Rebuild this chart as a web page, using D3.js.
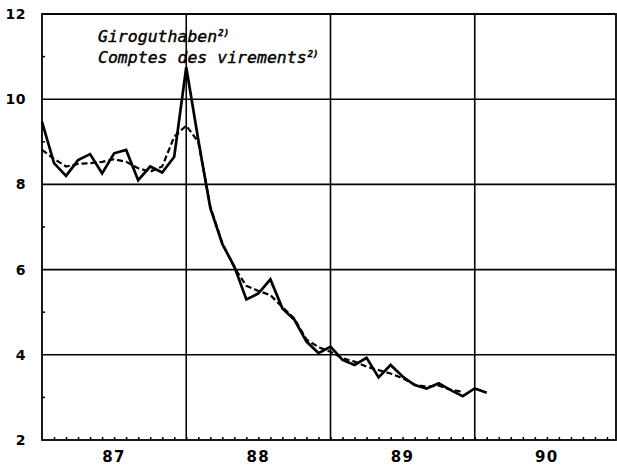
<!DOCTYPE html>
<html>
<head>
<meta charset="utf-8">
<script src="https://cdn.jsdelivr.net/npm/d3@7"></script>
<style>
  body { margin: 0; background: #fff; }
</style>
</head>
<body>
<div id="chart"></div>
<script>
// monthly values, first point = January 1987
const months = [
  '1987-01','1987-02','1987-03','1987-04','1987-05','1987-06','1987-07','1987-08','1987-09','1987-10','1987-11','1987-12',
  '1988-01','1988-02','1988-03','1988-04','1988-05','1988-06','1988-07','1988-08','1988-09','1988-10','1988-11','1988-12',
  '1989-01','1989-02','1989-03','1989-04','1989-05','1989-06','1989-07','1989-08','1989-09','1989-10','1989-11','1989-12',
  '1990-01','1990-02'
];
const solidValues = [
  9.47, 8.50, 8.20, 8.57, 8.71, 8.26, 8.73, 8.81, 8.10, 8.42, 8.28, 8.65,
  10.75, 9.05, 7.45, 6.60, 6.07, 5.30, 5.44, 5.77, 5.09, 4.82, 4.31, 4.04,
  4.19, 3.88, 3.76, 3.93, 3.47, 3.76, 3.49, 3.29, 3.21, 3.33, 3.17, 3.03,
  3.21, 3.11
];
const dashedValues = [
  8.81, 8.60, 8.42, 8.48, 8.50, 8.53, 8.59, 8.53, 8.38, 8.30, 8.42, 9.12,
  9.38, 9.00, 7.48, 6.62, 6.05, 5.62, 5.50, 5.40, 5.12, 4.85, 4.36, 4.18,
  4.07, 3.92, 3.84, 3.72, 3.64, 3.56, 3.45, 3.30, 3.25, 3.28, 3.18, 3.13
];
const yearLabels = ['87', '88', '89', '90'];
const yTicks = [2, 4, 6, 8, 10, 12];
const yMinorTicks = [3, 5, 7, 9, 11];
const legendLines = ['Giroguthaben', 'Comptes des virements'];

const width = 617, height = 468;
const plot = {left: 42, right: 616, top: 14, bottom: 440};

const monthIndex = m => {
  const [yy, mm] = m.split('-').map(Number);
  return (yy - 1987) * 12 + (mm - 1);
};

const svg = d3.select('#chart').append('svg')
  .attr('width', width)
  .attr('height', height);

const x = d3.scaleLinear().domain([0, 47.75]).range([plot.left, plot.right]);
const y = d3.scaleLinear().domain([2, 12]).range([plot.bottom, plot.top]);

// horizontal grid
svg.append('g')
  .selectAll('line')
  .data(yTicks.filter(v => v > 2))
  .join('line')
  .attr('x1', plot.left).attr('x2', plot.right)
  .attr('y1', d => y(d)).attr('y2', d => y(d))
  .attr('stroke', '#000').attr('stroke-width', 1.6);

// vertical grid at year boundaries
svg.append('g')
  .selectAll('line')
  .data([12, 24, 36])
  .join('line')
  .attr('x1', d => x(d)).attr('x2', d => x(d))
  .attr('y1', plot.top).attr('y2', plot.bottom)
  .attr('stroke', '#000').attr('stroke-width', 1.6);

// frame
svg.append('rect')
  .attr('x', plot.left).attr('y', plot.top)
  .attr('width', plot.right - plot.left).attr('height', plot.bottom - plot.top)
  .attr('fill', 'none').attr('stroke', '#000').attr('stroke-width', 1.8);

// y axis labels
const yAxis = svg.append('g')
  .attr('transform', `translate(${plot.left},0)`)
  .call(d3.axisLeft(y).tickValues(yTicks).tickSize(0).tickPadding(16).tickFormat(d3.format('d')));
yAxis.select('.domain').remove();
yAxis.selectAll('text')
  .style('font-family', 'DejaVu Sans')
  .style('font-weight', 'bold')
  .style('font-size', '14px')
  .style('letter-spacing', '0.5px')
  .attr('fill', '#000');

// y minor ticks (inside)
svg.append('g')
  .selectAll('line')
  .data(yMinorTicks)
  .join('line')
  .attr('x1', plot.left).attr('x2', plot.left + 3)
  .attr('y1', d => y(d)).attr('y2', d => y(d))
  .attr('stroke', '#000').attr('stroke-width', 1.5);

// x axis monthly ticks (inward)
const xAxis = svg.append('g')
  .attr('transform', `translate(0,${plot.bottom})`)
  .call(d3.axisBottom(x).tickValues(d3.range(1, 48)).tickSize(-3).tickFormat(''));
xAxis.select('.domain').remove();
xAxis.selectAll('line').attr('stroke', '#000').attr('stroke-width', 1.5);

// year labels centred in each year
svg.append('g')
  .selectAll('text')
  .data(yearLabels)
  .join('text')
  .attr('x', (d, i) => x(i * 12 + 6))
  .attr('y', 462)
  .attr('text-anchor', 'middle')
  .style('font-family', 'DejaVu Sans')
  .style('font-weight', 'bold')
  .style('font-size', '15px')
  .style('letter-spacing', '1.5px')
  .text(d => d);

// lines
const line = d3.line()
  .x((d, i) => x(monthIndex(months[i])))
  .y(d => y(d));

svg.append('path')
  .datum(dashedValues)
  .attr('d', line)
  .attr('fill', 'none')
  .attr('stroke', '#000')
  .attr('stroke-width', 2.2)
  .attr('stroke-dasharray', '6,3');

svg.append('path')
  .datum(solidValues)
  .attr('d', line)
  .attr('fill', 'none')
  .attr('stroke', '#000')
  .attr('stroke-width', 2.7)
  .attr('stroke-linejoin', 'miter');

// legend text
const legend = svg.append('g');
legendLines.forEach((t, i) => {
  const txt = legend.append('text')
    .attr('x', 98)
    .attr('y', 42 + i * 21)
    .style('font-family', 'DejaVu Sans Mono')
    .style('font-style', 'italic')
    .style('font-size', '16.5px')
    .attr('stroke', '#000')
    .attr('stroke-width', 0.4)
    .text(t);
  txt.append('tspan')
    .attr('dy', -6)
    .attr('dx', 1)
    .style('font-size', '9px')
    .style('font-weight', 'bold')
    .text('2)');
});
</script>
</body>
</html>
